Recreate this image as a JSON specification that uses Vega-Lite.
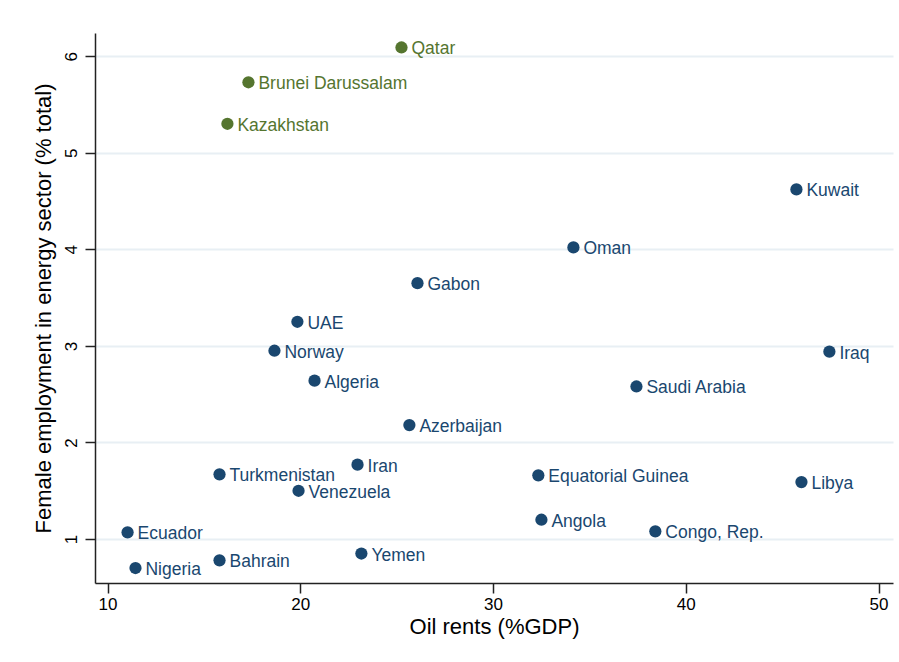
{
  "$schema": "https://vega.github.io/schema/vega-lite/v6.json",
  "width": 798,
  "height": 550,
  "autosize": {"type": "none"},
  "padding": {"left": 95, "top": 33, "right": 6, "bottom": 79},
  "background": "white",
  "config": {
    "view": {"stroke": null},
    "font": "Liberation Sans",
    "axis": {
      "labelFont": "Liberation Sans",
      "titleFont": "Liberation Sans",
      "labelColor": "#000000",
      "titleColor": "#000000",
      "domainColor": "#222222",
      "tickColor": "#222222",
      "domainWidth": 1.5,
      "tickWidth": 1.5,
      "tickSize": 10,
      "labelFontSize": 17,
      "titleFontSize": 22,
      "titleFontWeight": "normal"
    }
  },
  "data": {
    "values": [
      {"country": "Qatar", "oil": 25.25, "fem": 6.09, "grp": "high"},
      {"country": "Brunei Darussalam", "oil": 17.31, "fem": 5.73, "grp": "high"},
      {"country": "Kazakhstan", "oil": 16.22, "fem": 5.30, "grp": "high"},
      {"country": "Kuwait", "oil": 45.74, "fem": 4.62, "grp": "other"},
      {"country": "Oman", "oil": 34.17, "fem": 4.02, "grp": "other"},
      {"country": "Gabon", "oil": 26.08, "fem": 3.65, "grp": "other"},
      {"country": "UAE", "oil": 19.85, "fem": 3.25, "grp": "other"},
      {"country": "Norway", "oil": 18.66, "fem": 2.95, "grp": "other"},
      {"country": "Iraq", "oil": 47.45, "fem": 2.94, "grp": "other"},
      {"country": "Algeria", "oil": 20.74, "fem": 2.64, "grp": "other"},
      {"country": "Saudi Arabia", "oil": 37.44, "fem": 2.58, "grp": "other"},
      {"country": "Azerbaijan", "oil": 25.66, "fem": 2.18, "grp": "other"},
      {"country": "Iran", "oil": 22.97, "fem": 1.77, "grp": "other"},
      {"country": "Turkmenistan", "oil": 15.81, "fem": 1.67, "grp": "other"},
      {"country": "Equatorial Guinea", "oil": 32.35, "fem": 1.66, "grp": "other"},
      {"country": "Libya", "oil": 46.0, "fem": 1.59, "grp": "other"},
      {"country": "Venezuela", "oil": 19.91, "fem": 1.50, "grp": "other"},
      {"country": "Angola", "oil": 32.51, "fem": 1.20, "grp": "other"},
      {"country": "Ecuador", "oil": 11.04, "fem": 1.07, "grp": "other"},
      {"country": "Congo, Rep.", "oil": 38.42, "fem": 1.08, "grp": "other"},
      {"country": "Yemen", "oil": 23.17, "fem": 0.85, "grp": "other"},
      {"country": "Bahrain", "oil": 15.81, "fem": 0.78, "grp": "other"},
      {"country": "Nigeria", "oil": 11.45, "fem": 0.70, "grp": "other"}
    ]
  },
  "encoding": {
    "x": {
      "field": "oil",
      "type": "quantitative",
      "scale": {"domain": [9.35, 50.75], "nice": false, "zero": false},
      "axis": {
        "title": "Oil rents (%GDP)",
        "values": [10, 20, 30, 40, 50],
        "grid": false,
        "labelPadding": 3,
        "titlePadding": 4
      }
    },
    "y": {
      "field": "fem",
      "type": "quantitative",
      "scale": {"domain": [0.545, 6.24], "nice": false, "zero": false},
      "axis": {
        "title": "Female employment in energy sector (% total)",
        "values": [1, 2, 3, 4, 5, 6],
        "grid": true,
        "gridColor": "#e8eff4",
        "gridWidth": 2,
        "labelAngle": -90,
        "labelAlign": "center",
        "labelBaseline": "bottom",
        "labelPadding": 5,
        "titlePadding": 7
      }
    },
    "color": {
      "field": "grp",
      "type": "nominal",
      "scale": {"domain": ["high", "other"], "range": ["#55752f", "#1a476f"]},
      "legend": null
    }
  },
  "layer": [
    {"mark": {"type": "point", "filled": true, "opacity": 1, "size": 150, "shape": "circle"}},
    {
      "mark": {"type": "text", "align": "left", "baseline": "middle", "dx": 10, "dy": 2, "fontSize": 17.5, "font": "Liberation Sans"},
      "encoding": {"text": {"field": "country"}}
    }
  ]
}
